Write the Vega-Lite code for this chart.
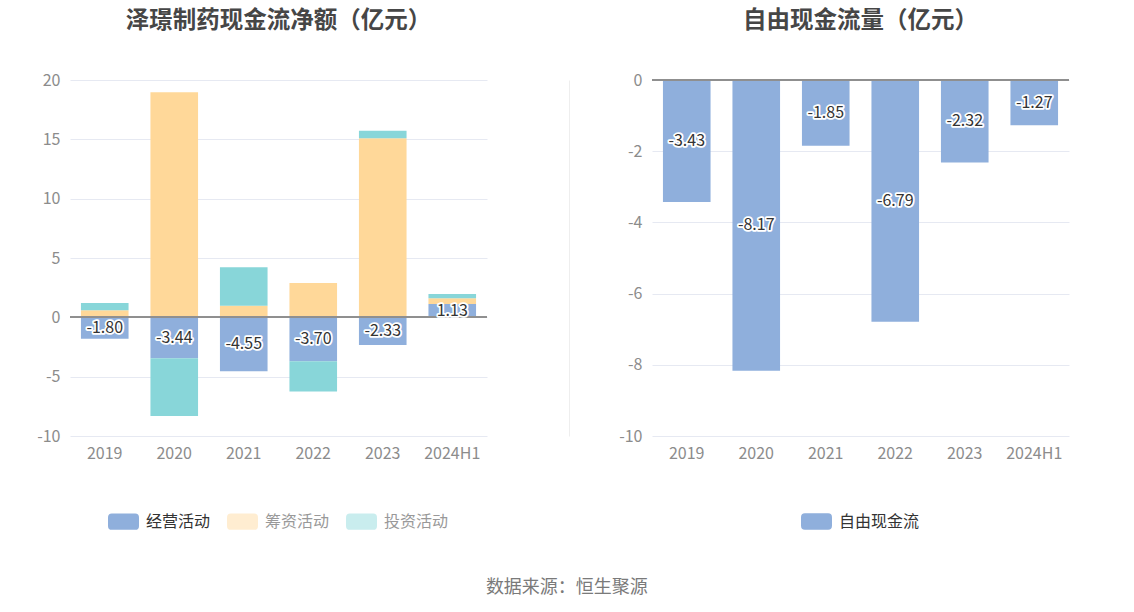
{
  "$schema": "https://vega.github.io/schema/vega-lite/v6.json",
  "padding": {"left": 30, "top": 8, "right": 10, "bottom": 10},
  "background": "white",
  "config": {
    "font": "Noto Sans CJK SC",
    "locale": {"number": {"decimal": ".", "thousands": ",", "grouping": [3], "currency": ["", ""], "minus": "-"}},
    "view": {"stroke": null},
    "axis": {"labelFont": "Noto Sans CJK SC", "labelFontSize": 16, "labelColor": "#8c8c8c", "gridColor": "#e6e9f2", "gridWidth": 1, "domain": false, "ticks": false, "title": null},
    "title": {"font": "Noto Sans CJK SC", "fontSize": 23.5, "fontWeight": "bold", "color": "#464646", "offset": 40},
    "legend": {"orient": "bottom", "direction": "horizontal", "title": null, "symbolType": "M-0.75,-0.53 L0.75,-0.53 Q1,-0.53 1,-0.28 L1,0.28 Q1,0.53 0.75,0.53 L-0.75,0.53 Q-1,0.53 -1,0.28 L-1,-0.28 Q-1,-0.53 -0.75,-0.53 Z", "symbolSize": 961, "symbolStrokeWidth": 0, "labelFont": "Noto Sans CJK SC", "labelFontSize": 16, "labelColor": "#333333", "labelOffset": 7, "columnPadding": 16, "offset": 45, "layout": {"bottom": {"anchor": "middle"}}}
  },
  "resolve": {"scale": {"color": "independent"}, "legend": {"color": "independent"}},
  "title": {"text": "数据来源：恒生聚源", "orient": "bottom", "anchor": "middle", "fontSize": 18, "fontWeight": "normal", "color": "#7a7a7a", "offset": 49, "dx": 17},
  "datasets": {
    "flows": [
      {"year": "2019", "type": "经营活动", "value": -1.80, "order": 1},
      {"year": "2019", "type": "筹资活动", "value": 0.59, "order": 2},
      {"year": "2019", "type": "投资活动", "value": 0.62, "order": 3},
      {"year": "2020", "type": "经营活动", "value": -3.44, "order": 1},
      {"year": "2020", "type": "筹资活动", "value": 18.97, "order": 2},
      {"year": "2020", "type": "投资活动", "value": -4.88, "order": 3},
      {"year": "2021", "type": "经营活动", "value": -4.55, "order": 1},
      {"year": "2021", "type": "筹资活动", "value": 0.98, "order": 2},
      {"year": "2021", "type": "投资活动", "value": 3.25, "order": 3},
      {"year": "2022", "type": "经营活动", "value": -3.70, "order": 1},
      {"year": "2022", "type": "筹资活动", "value": 2.89, "order": 2},
      {"year": "2022", "type": "投资活动", "value": -2.54, "order": 3},
      {"year": "2023", "type": "经营活动", "value": -2.33, "order": 1},
      {"year": "2023", "type": "筹资活动", "value": 15.10, "order": 2},
      {"year": "2023", "type": "投资活动", "value": 0.62, "order": 3},
      {"year": "2024H1", "type": "经营活动", "value": 1.13, "order": 1},
      {"year": "2024H1", "type": "筹资活动", "value": 0.47, "order": 2},
      {"year": "2024H1", "type": "投资活动", "value": 0.37, "order": 3}
    ],
    "fcf": [
      {"year": "2019", "series": "自由现金流", "value": -3.43},
      {"year": "2020", "series": "自由现金流", "value": -8.17},
      {"year": "2021", "series": "自由现金流", "value": -1.85},
      {"year": "2022", "series": "自由现金流", "value": -6.79},
      {"year": "2023", "series": "自由现金流", "value": -2.32},
      {"year": "2024H1", "series": "自由现金流", "value": -1.27}
    ]
  },
  "spacing": 43,
  "hconcat": [
    {
      "title": {"text": "泽璟制药现金流净额（亿元）"},
      "width": 417,
      "height": 356,
      "data": {"name": "flows"},
      "layer": [
        {
          "mark": {"type": "bar"},
          "encoding": {
            "x": {"field": "year", "type": "nominal", "sort": null, "scale": {"paddingInner": 0.315, "paddingOuter": 0.1575}, "axis": {"labelAngle": 0, "labelPadding": 9, "grid": false}},
            "y": {"field": "value", "type": "quantitative", "stack": "zero", "scale": {"domain": [-10, 20], "nice": false}, "axis": {"values": [-10, -5, 0, 5, 10, 15, 20], "grid": true, "labelPadding": 10, "minExtent": 40, "maxExtent": 40}},
            "color": {"field": "type", "type": "nominal", "sort": ["经营活动", "筹资活动", "投资活动"], "scale": {"domain": ["经营活动", "筹资活动", "投资活动"], "range": ["#8fafdc", "#ffd899", "#88d6d9"]}, "legend": {"labelColor": {"expr": "datum.label === '经营活动' ? '#333333' : '#999999'"}, "symbolOpacity": {"expr": "datum.label === '经营活动' ? 1 : 0.45"}}},
            "order": {"field": "order", "type": "quantitative"}
          }
        },
        {
          "mark": {"type": "rule", "color": "#8f8f8f", "strokeWidth": 1.5},
          "encoding": {
            "y": {"datum": 0, "type": "quantitative", "scale": {"domain": [-10, 20], "nice": false}, "axis": {"orient": "right", "offset": 82, "domain": true, "domainColor": "#eeeeee", "domainWidth": 1, "labels": false, "ticks": false, "grid": false}}
          }
        },
        {
          "transform": [{"filter": "datum.type === '经营活动'"}, {"calculate": "datum.value / 2", "as": "mid"}],
          "mark": {"type": "text", "fontSize": 16, "fill": "white", "stroke": "white", "strokeWidth": 3.5, "strokeJoin": "round", "baseline": "middle"},
          "encoding": {
            "x": {"field": "year", "type": "nominal", "sort": null},
            "y": {"field": "mid", "type": "quantitative", "scale": {"domain": [-10, 20], "nice": false}, "axis": null},
            "text": {"field": "value", "type": "quantitative", "format": ".2f"}
          }
        },
        {
          "transform": [{"filter": "datum.type === '经营活动'"}, {"calculate": "datum.value / 2", "as": "mid"}],
          "mark": {"type": "text", "fontSize": 16, "fill": "#333333", "baseline": "middle"},
          "encoding": {
            "x": {"field": "year", "type": "nominal", "sort": null},
            "y": {"field": "mid", "type": "quantitative", "scale": {"domain": [-10, 20], "nice": false}, "axis": null},
            "text": {"field": "value", "type": "quantitative", "format": ".2f"}
          }
        }
      ],
      "resolve": {"scale": {"y": "independent"}}
    },
    {
      "title": {"text": "自由现金流量（亿元）"},
      "width": 417,
      "height": 356,
      "data": {"name": "fcf"},
      "transform": [{"calculate": "datum.value / 2", "as": "mid"}],
      "layer": [
        {
          "mark": {"type": "bar"},
          "encoding": {
            "x": {"field": "year", "type": "nominal", "sort": null, "scale": {"paddingInner": 0.315, "paddingOuter": 0.1575}, "axis": {"labelAngle": 0, "labelPadding": 9, "grid": false}},
            "y": {"field": "value", "type": "quantitative", "scale": {"domain": [-10, 0], "nice": false}, "axis": {"values": [-10, -8, -6, -4, -2, 0], "grid": true, "labelPadding": 10, "minExtent": 40, "maxExtent": 40}},
            "color": {"field": "series", "type": "nominal", "scale": {"domain": ["自由现金流"], "range": ["#8fafdc"]}}
          }
        },
        {
          "mark": {"type": "rule", "color": "#8f8f8f", "strokeWidth": 1.5},
          "encoding": {"y": {"datum": 0, "type": "quantitative"}}
        },
        {
          "mark": {"type": "text", "fontSize": 16, "fill": "white", "stroke": "white", "strokeWidth": 3.5, "strokeJoin": "round", "baseline": "middle"},
          "encoding": {
            "x": {"field": "year", "type": "nominal", "sort": null},
            "y": {"field": "mid", "type": "quantitative"},
            "text": {"field": "value", "type": "quantitative", "format": ".2f"}
          }
        },
        {
          "mark": {"type": "text", "fontSize": 16, "fill": "#333333", "baseline": "middle"},
          "encoding": {
            "x": {"field": "year", "type": "nominal", "sort": null},
            "y": {"field": "mid", "type": "quantitative"},
            "text": {"field": "value", "type": "quantitative", "format": ".2f"}
          }
        }
      ]
    }
  ]
}
